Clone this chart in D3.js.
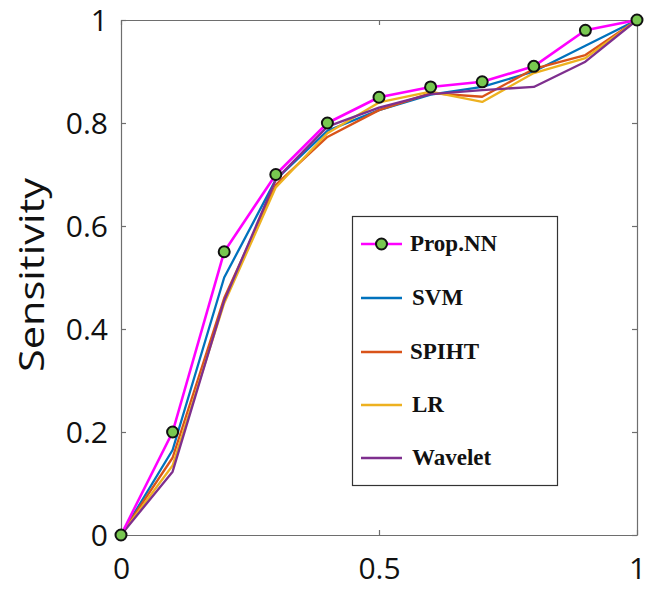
<!DOCTYPE html>
<html>
<head>
<meta charset="utf-8">
<script src="https://cdn.jsdelivr.net/npm/d3@7"></script>
<style>
  html, body { margin: 0; padding: 0; background: #fff; }
  svg { display: block; }
</style>
</head>
<body>
<svg id="chart" width="654" height="595"></svg>
<script>
const xValues = [0, 0.1, 0.2, 0.3, 0.4, 0.5, 0.6, 0.7, 0.8, 0.9, 1.0];
const propNN  = [0, 0.20, 0.55, 0.70, 0.80, 0.85, 0.87, 0.88, 0.91, 0.98, 1.0];
const svm     = [0, 0.165, 0.50, 0.69, 0.785, 0.825, 0.855, 0.87, 0.90, 0.95, 1.0];
const spiht   = [0, 0.15, 0.46, 0.68, 0.773, 0.825, 0.858, 0.851, 0.905, 0.932, 1.0];
const lr      = [0, 0.135, 0.45, 0.675, 0.78, 0.84, 0.861, 0.841, 0.897, 0.926, 1.0];
const wavelet = [0, 0.123, 0.455, 0.69, 0.793, 0.83, 0.856, 0.864, 0.870, 0.919, 1.0];
const seriesNames = ["Prop.NN", "SVM", "SPIHT", "LR", "Wavelet"];
const xTicks = [0, 0.5, 1];
const xTickLabels = ["0", "0.5", "1"];
const yTicks = [0, 0.2, 0.4, 0.6, 0.8, 1];
const yTickLabels = ["0", "0.2", "0.4", "0.6", "0.8", "1"];
const yLabel = "Sensitivity";

const colors = {"Prop.NN": "#ff00ff", "SVM": "#0072bd", "SPIHT": "#d95319", "LR": "#edb120", "Wavelet": "#7e2f8e"};
const seriesData = {"Prop.NN": propNN, "SVM": svm, "SPIHT": spiht, "LR": lr, "Wavelet": wavelet};

(function () {
const svg = d3.select("#chart");
const mLeft = 121, mRight = 637, mTop = 20, mBottom = 535;
const x = d3.scaleLinear().domain([0, 1]).range([mLeft, mRight]);
const y = d3.scaleLinear().domain([0, 1]).range([mBottom, mTop]);

const axisColor = "#6e6e6e";
const tickFont = "'Open Sans', 'DejaVu Sans', sans-serif";

// axes (inward ticks)
const gx = svg.append("g").attr("transform", `translate(0,${mBottom})`)
  .call(d3.axisBottom(x).tickValues(xTicks).tickFormat((d,i)=>xTickLabels[i]).tickSizeInner(-5).tickSizeOuter(0).tickPadding(22));
const gy = svg.append("g").attr("transform", `translate(${mLeft},0)`)
  .call(d3.axisLeft(y).tickValues(yTicks).tickFormat((d,i)=>yTickLabels[i]).tickSizeInner(-5).tickSizeOuter(0).tickPadding(13));
const gxt = svg.append("g").attr("transform", `translate(0,${mTop})`)
  .call(d3.axisTop(x).tickValues(xTicks).tickFormat("").tickSizeInner(-5).tickSizeOuter(0));
const gyr = svg.append("g").attr("transform", `translate(${mRight},0)`)
  .call(d3.axisRight(y).tickValues(yTicks).tickFormat("").tickSizeInner(-5).tickSizeOuter(0));
[gx, gy, gxt, gyr].forEach(g => {
  g.select(".domain").attr("stroke", axisColor).attr("stroke-width", 1.2);
  g.selectAll(".tick line").attr("stroke", axisColor).attr("stroke-width", 1.2);
  g.selectAll(".tick text").attr("fill", "#111").style("font-family", tickFont).style("font-size", "30px");
});
gx.selectAll(".tick text").attr("dy", "0.72em");
gy.selectAll(".tick text").attr("dy", "0.36em");

// y label
svg.append("text")
  .attr("transform", `translate(44,275) rotate(-90)`)
  .attr("text-anchor", "middle")
  .style("font-family", tickFont)
  .style("font-size", "34px")
  .attr("fill", "#111")
  .attr("textLength", 194)
  .attr("lengthAdjust", "spacingAndGlyphs")
  .text(yLabel);

// lines
const line = d3.line().x((d,i)=>x(xValues[i])).y(d=>y(d));
const drawOrder = ["SVM", "SPIHT", "LR", "Wavelet", "Prop.NN"];
drawOrder.forEach(name => {
  svg.append("path")
    .datum(seriesData[name])
    .attr("fill", "none")
    .attr("stroke", colors[name])
    .attr("stroke-width", name === "Prop.NN" ? 2.6 : 2.3)
    .attr("stroke-linejoin", "round")
    .attr("d", line);
});
svg.selectAll("circle.pt").data(propNN).enter().append("circle")
  .attr("class", "pt")
  .attr("cx", (d,i)=>x(xValues[i]))
  .attr("cy", d=>y(d))
  .attr("r", 5.5)
  .attr("fill", "#78c850")
  .attr("stroke", "#111")
  .attr("stroke-width", 2);

// legend
const lg = svg.append("g");
lg.append("rect").attr("x", 352.5).attr("y", 216.5).attr("width", 205).attr("height", 269)
  .attr("fill", "#fff").attr("stroke", "#333").attr("stroke-width", 1.2);
const legendY = [244, 298, 352, 405, 458];
seriesNames.forEach((name, i) => {
  const yy = legendY[i];
  lg.append("line").attr("x1", 361).attr("x2", 402).attr("y1", yy).attr("y2", yy)
    .attr("stroke", colors[name]).attr("stroke-width", name === "Prop.NN" ? 2.6 : 2.4);
  if (name === "Prop.NN") {
    lg.append("circle").attr("cx", 381.5).attr("cy", yy).attr("r", 5.5)
      .attr("fill", "#78c850").attr("stroke", "#111").attr("stroke-width", 2);
  }
  lg.append("text").attr("x", name === "Prop.NN" || name === "SPIHT" ? 410 : 412).attr("y", yy)
    .attr("dy", "0.3em")
    .style("font-family", "'Liberation Serif', 'Times New Roman', serif")
    .style("font-weight", "bold")
    .style("font-size", "23px")
    .attr("fill", "#111")
    .text(name);
});
})();
</script>
</body>
</html>
